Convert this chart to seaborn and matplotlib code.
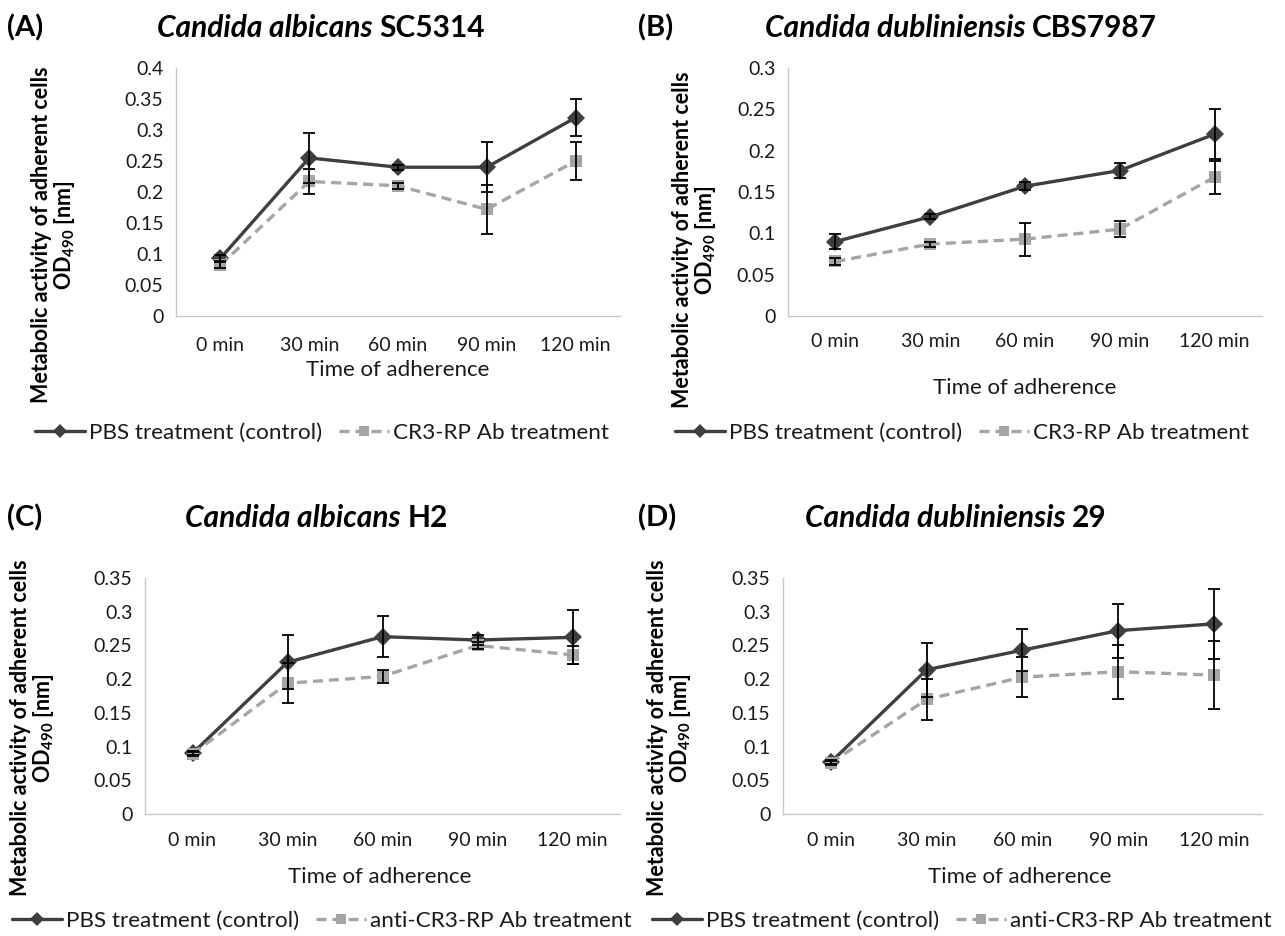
import numpy as np
import pandas as pd
import matplotlib
matplotlib.use("Agg")
import matplotlib.pyplot as plt
import seaborn as sns

sns.set_style("white")
plt.rcParams['font.family'] = ['Lato', 'DejaVu Sans']
plt.rcParams['mathtext.default'] = 'regular'

# data
times = ["0 min", "30 min", "60 min", "90 min", "120 min"]

a_pbs = [0.093, 0.255, 0.240, 0.240, 0.320]
a_pbs_err = [0.005, 0.040, 0.004, 0.040, 0.030]
a_ab = [0.082, 0.217, 0.210, 0.172, 0.250]
a_ab_err = [0.005, 0.020, 0.005, 0.040, 0.030]

b_pbs = [0.090, 0.120, 0.157, 0.176, 0.220]
b_pbs_err = [0.009, 0.003, 0.005, 0.009, 0.030]
b_ab = [0.066, 0.087, 0.093, 0.105, 0.168]
b_ab_err = [0.004, 0.003, 0.020, 0.010, 0.020]

c_pbs = [0.090, 0.225, 0.263, 0.258, 0.262]
c_pbs_err = [0.003, 0.040, 0.030, 0.008, 0.040]
c_ab = [0.089, 0.194, 0.204, 0.250, 0.236]
c_ab_err = [0.003, 0.030, 0.010, 0.005, 0.013]

d_pbs = [0.077, 0.214, 0.243, 0.272, 0.282]
d_pbs_err = [0.003, 0.040, 0.031, 0.040, 0.052]
d_ab = [0.076, 0.170, 0.203, 0.211, 0.206]
d_ab_err = [0.003, 0.030, 0.030, 0.040, 0.050]

PBS_LABEL = "PBS treatment (control)"
panels = [
    # letter, italic name, strain, data..., ab label, ymax
    ("(A)", "Candida albicans", "SC5314", a_pbs, a_pbs_err, a_ab, a_ab_err,
     "CR3-RP Ab treatment", 0.4),
    ("(B)", "Candida dubliniensis", "CBS7987", b_pbs, b_pbs_err, b_ab, b_ab_err,
     "CR3-RP Ab treatment", 0.3),
    ("(C)", "Candida albicans", "H2", c_pbs, c_pbs_err, c_ab, c_ab_err,
     "anti-CR3-RP Ab treatment", 0.35),
    ("(D)", "Candida dubliniensis", "29", d_pbs, d_pbs_err, d_ab, d_ab_err,
     "anti-CR3-RP Ab treatment", 0.35),
]

W, H = 1285, 936
# pixel layout of each panel (from the reference)
layout = [
    dict(ax=(176, 68, 620, 316), letter=(7, 28), title=(157, 28), ylab=(54, 235),
         xlab=(398, 370), leg=(322, 433), xpad=15),
    dict(ax=(788, 68, 1262, 316), letter=(638, 28), title=(765, 28), ylab=(695, 240),
         xlab=(1025, 388), leg=(962, 433), xpad=12),
    dict(ax=(145, 578, 620, 814), letter=(7, 518), title=(185, 518), ylab=(33, 728),
         xlab=(380, 877), leg=(322, 921), xpad=13),
    dict(ax=(783, 578, 1262, 814), letter=(638, 518), title=(805, 518), ylab=(670, 728),
         xlab=(1020, 877), leg=(962, 921), xpad=13),
]

dark = '#3f3f3f'
light = '#a5a5a5'
txt = '#1a1a1a'

fig = plt.figure(figsize=(W / 100, H / 100), dpi=100)

for p, lay in zip(panels, layout):
    letter, sp, strain, pbs, pbs_err, ab, ab_err, ab_label, ymax = p
    x0, y0, x1, y1 = lay['ax']
    ax = fig.add_axes([x0 / W, 1 - y1 / H, (x1 - x0) / W, (y1 - y0) / H])

    df = pd.DataFrame({
        'pos': list(range(len(times))) * 2,
        'value': pbs + ab,
        'group': [PBS_LABEL] * len(times) + [ab_label] * len(times),
    })
    sns.lineplot(data=df, x='pos', y='value', hue='group', style='group',
                 palette={PBS_LABEL: dark, ab_label: light},
                 dashes={PBS_LABEL: '', ab_label: (3.0, 1.8)},
                 markers={PBS_LABEL: 'D', ab_label: 's'},
                 markersize=9, markeredgewidth=0, linewidth=2.4, ax=ax)
    pos = np.arange(len(times))
    ax.errorbar(pos, pbs, yerr=pbs_err, fmt='none', ecolor='black',
                elinewidth=1.3, capsize=4, capthick=1.3, zorder=5)
    ax.errorbar(pos, ab, yerr=ab_err, fmt='none', ecolor='black',
                elinewidth=1.3, capsize=4, capthick=1.3, zorder=5)

    yt = np.round(np.arange(0, ymax + 1e-9, 0.05), 2)
    ax.set_xlim(-0.5, len(times) - 0.5)
    ax.set_ylim(0, ymax)
    ax.set_yticks(yt)
    ax.set_yticklabels([f"{v:g}" for v in yt])
    ax.set_xticks(pos)
    ax.set_xticklabels(times)
    ax.tick_params(axis='both', length=0, labelsize=14, colors=txt)
    ax.tick_params(axis='x', pad=lay['xpad'])
    ax.tick_params(axis='y', pad=9)
    for s in ['top', 'right']:
        ax.spines[s].set_visible(False)
    for s in ['left', 'bottom']:
        ax.spines[s].set_color('#c8c8c8')
        ax.spines[s].set_linewidth(1.0)
    ax.set_xlabel('')
    ax.set_ylabel('')

    # legend below the plot
    handles, labels = ax.get_legend_handles_labels()
    ax.legend(handles, labels, loc='center', ncol=2, frameon=False,
              bbox_to_anchor=(lay['leg'][0] / W, 1 - lay['leg'][1] / H),
              bbox_transform=fig.transFigure, fontsize=16.2, handlelength=2.2,
              handletextpad=0.2, columnspacing=0.75, labelcolor=txt,
              borderpad=0.2, markerscale=0.8)

    # panel letter
    fig.text(lay['letter'][0] / W, 1 - lay['letter'][1] / H, letter,
             fontsize=21, fontweight='bold', va='center', ha='left', color='black')
    # title: italic species + bold strain
    t1 = fig.text(lay['title'][0] / W, 1 - lay['title'][1] / H, sp + " ",
                  fontsize=21.5, fontweight='bold', fontstyle='italic',
                  va='center', ha='left', color='black')
    ax.annotate(strain, xy=(1, 0), xycoords=t1, va='bottom', ha='left',
                fontsize=21.5, fontweight='bold', color='black',
                annotation_clip=False)
    # y label
    fig.text(lay['ylab'][0] / W, 1 - lay['ylab'][1] / H,
             "Metabolic activity of adherent cells\nOD$_{490}$ [nm]",
             rotation=90, fontsize=15.5, fontweight='bold', ha='center',
             va='center', multialignment='center', color='black',
             linespacing=1.05)
    # x label
    fig.text(lay['xlab'][0] / W, 1 - lay['xlab'][1] / H, "Time of adherence",
             fontsize=16, ha='center', va='center', color=txt)

fig.savefig('out.png', dpi=100)
